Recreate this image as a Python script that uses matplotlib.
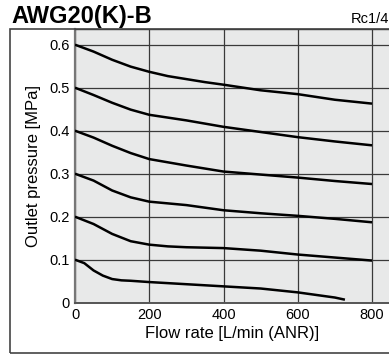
import matplotlib
matplotlib.use("Agg")
import matplotlib.pyplot as plt
from matplotlib.patches import Rectangle

plt.rcParams["font.family"] = ["Liberation Sans", "DejaVu Sans"]

# Curvas de presion de salida vs caudal
flow_06 = [0, 50, 100, 150, 200, 250, 300, 350, 400, 500, 600, 700, 800]
p_06 = [0.600, 0.584, 0.565, 0.549, 0.537, 0.527, 0.520, 0.513, 0.507, 0.494, 0.485, 0.472, 0.463]

flow_05 = [0, 50, 100, 150, 200, 300, 400, 500, 600, 700, 800]
p_05 = [0.500, 0.483, 0.465, 0.449, 0.437, 0.424, 0.409, 0.397, 0.385, 0.375, 0.366]

flow_04 = [0, 50, 100, 150, 200, 300, 400, 500, 600, 700, 800]
p_04 = [0.400, 0.384, 0.365, 0.348, 0.334, 0.319, 0.305, 0.298, 0.291, 0.283, 0.276]

flow_03 = [0, 50, 100, 150, 200, 300, 400, 500, 600, 700, 800]
p_03 = [0.300, 0.284, 0.261, 0.245, 0.235, 0.227, 0.215, 0.208, 0.202, 0.195, 0.187]

flow_02 = [0, 50, 100, 150, 200, 250, 300, 400, 500, 600, 700, 800]
p_02 = [0.200, 0.183, 0.160, 0.143, 0.135, 0.131, 0.129, 0.127, 0.121, 0.112, 0.105, 0.098]

flow_01 = [0, 25, 50, 75, 100, 125, 150, 200, 300, 400, 500, 600, 700, 727]
p_01 = [0.100, 0.092, 0.075, 0.063, 0.055, 0.052, 0.051, 0.048, 0.043, 0.038, 0.033, 0.024, 0.012, 0.007]

curves = [(flow_06, p_06), (flow_05, p_05), (flow_04, p_04),
          (flow_03, p_03), (flow_02, p_02), (flow_01, p_01)]

x_ticks = [0, 200, 400, 600, 800]
y_ticks = [0, 0.1, 0.2, 0.3, 0.4, 0.5, 0.6]
y_ticklabels = ["0", "0.1", "0.2", "0.3", "0.4", "0.5", "0.6"]

W, H = 389, 356
fig = plt.figure(figsize=(W / 100, H / 100), dpi=100)

ax = fig.add_axes([75 / W, 53.3 / H, 1 - 75 / W, (302.7 - 28.5) / H])
ax.set_facecolor("#e8e9e9")
for fx, fp in curves:
    ax.plot(fx, fp, color="black", lw=1.8, solid_capstyle="butt", zorder=3)

ax.set_xlim(0, 845.7)
ax.set_ylim(0, 0.6377)
ax.set_xticks(x_ticks)
ax.set_yticks(y_ticks)
ax.set_yticklabels(y_ticklabels)
ax.tick_params(length=0, labelsize=10.5, pad=4)
ax.grid(True, color="#3a3a3a", lw=0.9)
ax.set_axisbelow(True)

ax.spines["left"].set_color("#777777")
ax.spines["left"].set_linewidth(1.6)
ax.spines["bottom"].set_color("#555555")
ax.spines["bottom"].set_linewidth(1.4)
ax.spines["top"].set_color("#333333")
ax.spines["top"].set_linewidth(1.0)
ax.spines["right"].set_visible(False)

ax.set_xlabel("Flow rate [L/min (ANR)]", fontsize=12, labelpad=3)
ax.set_ylabel("Outlet pressure [MPa]", fontsize=12, labelpad=6)

# marco exterior
fig.patches.append(Rectangle((10 / W, 3.3 / H), 1.0, (356 - 3.3 - 28.5) / H,
                             transform=fig.transFigure, fill=False,
                             edgecolor="#444444", lw=1.2, clip_on=False))

fig.text(11 / W, 1 - 22.7 / H, "AWG20(K)-B", fontsize=17, fontweight="bold",
         va="baseline", ha="left")
fig.text(389 / W, 1 - 22.7 / H, "Rc1/4", fontsize=10.5, va="baseline", ha="right")

fig.savefig("out.png", dpi=100)
